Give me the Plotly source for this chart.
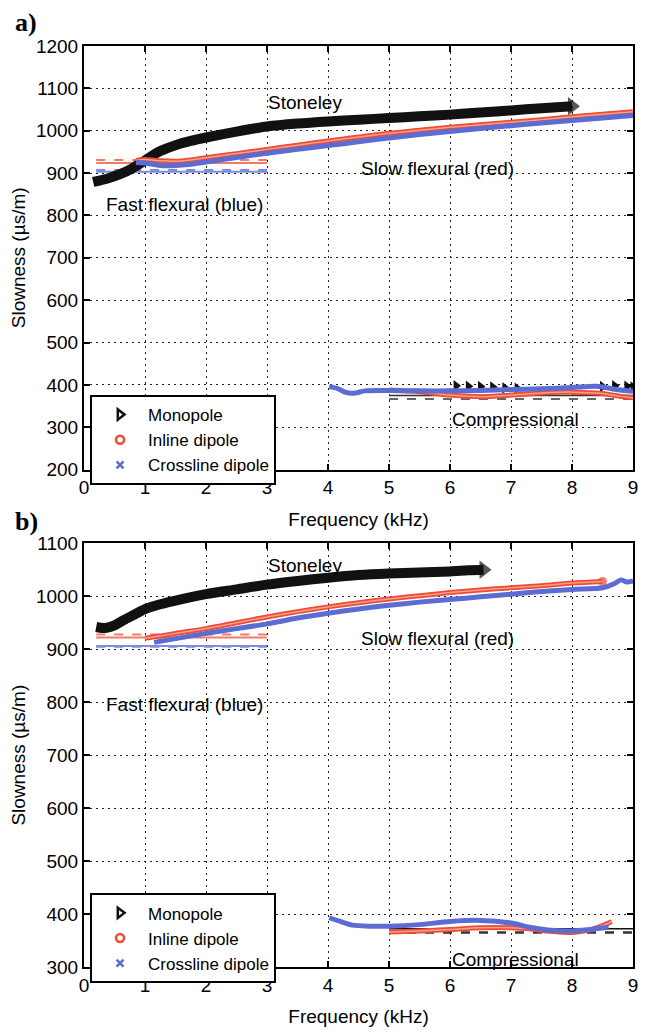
import plotly.graph_objects as go

# ---------------- panel a) ----------------
# Stoneley (monopole)
a_st_f = [0.15, 0.4, 0.6, 0.8, 1.0, 1.25, 1.5, 1.75, 2.0, 2.5, 3.0, 3.5, 4.0, 4.5, 5.0, 5.5, 6.0, 6.5, 7.0, 7.5, 8.0]
a_st_s = [879, 888, 898, 912, 930, 952, 966, 976, 984, 998, 1010, 1017, 1022, 1026, 1030, 1034, 1038, 1043, 1048, 1053, 1058]
# flexural (inline / crossline dipole)
a_in_f = [0.85, 1.0, 1.25, 1.5, 1.75, 2.0, 2.5, 3.0, 3.5, 4.0, 4.5, 5.0, 5.5, 6.0, 6.5, 7.0, 7.5, 8.0, 8.5, 9.0]
a_in_s = [930, 932, 929, 928, 931, 936, 946, 956, 966, 976, 985, 994, 1001, 1008, 1014, 1020, 1026, 1033, 1039, 1045]
a_cr_f = [0.85, 1.0, 1.25, 1.5, 1.75, 2.0, 2.5, 3.0, 3.5, 4.0, 4.5, 5.0, 5.5, 6.0, 6.5, 7.0, 7.5, 8.0, 8.5, 9.0]
a_cr_s = [925, 924, 918, 918, 921, 926, 937, 947, 956, 965, 974, 983, 991, 998, 1005, 1012, 1018, 1024, 1030, 1036]
# compressional
a_cp_cr_f = [4.02, 4.15, 4.3, 4.45, 4.6, 5.0, 5.5, 6.0, 6.5, 7.0, 7.5, 8.0, 8.4, 8.7, 9.0]
a_cp_cr_s = [396, 392, 382, 381, 386, 387, 386, 386, 387, 389, 391, 394, 397, 390, 385]
a_cp_in_f = [5.0, 5.5, 6.0, 6.5, 7.0, 7.5, 8.0, 8.5, 8.8, 9.0]
a_cp_in_s = [388, 384, 376, 372, 376, 381, 383, 380, 373, 370]
a_cp_mo_f = [6.1, 6.3, 6.5, 6.7, 6.9, 7.1, 8.5, 8.7, 8.9, 9.0]
a_cp_mo_s = [398, 397, 396, 395, 393, 392, 396, 398, 397, 395]
# reference slownesses (range in kHz, value in us/m)
a_ref_band = [0.2, 3.0]
a_ref_in = [931, 924]      # dashed, solid
a_ref_cr = [907, 903]      # dashed, solid
a_ref_cp_band = [5.0, 9.0]
a_ref_cp = [367, 375]      # dashed, solid

# ---------------- panel b) ----------------
b_st_f = [0.2, 0.35, 0.5, 0.65, 0.8, 1.0, 1.25, 1.5, 2.0, 2.5, 3.0, 3.5, 4.0, 4.5, 5.0, 5.5, 6.0, 6.3, 6.55]
b_st_s = [942, 940, 945, 955, 964, 976, 985, 992, 1004, 1013, 1022, 1029, 1035, 1040, 1043, 1045, 1047, 1049, 1050]
b_in_f = [1.0, 1.25, 1.5, 2.0, 2.5, 3.0, 3.5, 4.0, 4.5, 5.0, 5.5, 6.0, 6.5, 7.0, 7.5, 8.0, 8.5]
b_in_s = [921, 925, 930, 939, 950, 961, 971, 980, 988, 995, 1001, 1007, 1012, 1016, 1020, 1025, 1028]
b_cr_f = [1.15, 1.5, 2.0, 2.5, 3.0, 3.5, 4.0, 4.5, 5.0, 5.5, 6.0, 6.5, 7.0, 7.5, 8.0, 8.5, 8.7, 8.8, 8.9, 9.0]
b_cr_s = [913, 920, 930, 939, 948, 959, 968, 976, 983, 989, 994, 999, 1004, 1009, 1013, 1016, 1024, 1031, 1027, 1029]
b_cp_cr_f = [4.02, 4.2, 4.4, 4.7, 5.0, 5.5, 6.0, 6.5, 7.0, 7.3, 7.6, 8.0, 8.3, 8.6]
b_cp_cr_s = [393, 386, 379, 377, 377, 380, 386, 388, 383, 375, 370, 368, 371, 375]
b_cp_in_f = [5.0, 5.5, 6.0, 6.5, 7.0, 7.3, 7.6, 8.0, 8.3, 8.5, 8.65]
b_cp_in_s = [366, 368, 371, 374, 374, 372, 368, 365, 370, 378, 386]
b_ref_band = [0.2, 3.0]
b_ref_in = [928, 922]
b_ref_cr = [905, 906]
b_ref_cp_band = [5.0, 9.0]
b_ref_cp = [365, 372]

FONT = "Liberation Sans, Arial, Helvetica, sans-serif"
RED = "#ee4b34"
RED_CORE = "#f7a08c"
RED_L = "#f27a66"
BLUE = "#5b6cd3"
BLUE_L = "#7d8ce0"
BLACK = "#111111"

fig = go.Figure()


def band(x, y, color, width, xa, ya, tip=None, tip_size=0, core=None):
    """Dense dispersion picks drawn as a thick smoothed band.
    tip: optional marker symbol drawn at the last pick only.
    core: optional lighter colour along the band centre (hollow-marker look)."""
    n = len(x)
    sizes = [0] * (n - 1) + [tip_size] if tip else [0] * n
    fig.add_trace(go.Scatter(
        x=x, y=y, mode="lines+markers", xaxis=xa, yaxis=ya, showlegend=False,
        line=dict(color=color, width=width, shape="spline", smoothing=0.8),
        marker=dict(symbol=tip or "circle", size=sizes, color=color, line=dict(width=0)),
        hoverinfo="skip"))
    if core:
        fig.add_trace(go.Scatter(
            x=x, y=y, mode="lines", xaxis=xa, yaxis=ya, showlegend=False,
            line=dict(color=core, width=1.5, shape="spline", smoothing=0.8),
            hoverinfo="skip"))


def hline(band_x, val, color, width, dash, xa, ya):
    fig.add_trace(go.Scatter(
        x=band_x, y=[val, val], mode="lines", xaxis=xa, yaxis=ya,
        showlegend=False, line=dict(color=color, width=width, dash=dash),
        hoverinfo="skip"))


def legend_entries(lg, xa, ya):
    fig.add_trace(go.Scatter(x=[None], y=[None], mode="markers", name="Monopole",
                             legend=lg, xaxis=xa, yaxis=ya,
                             marker=dict(symbol="triangle-right-open", size=9,
                                         color=BLACK, line=dict(width=2.5, color=BLACK))))
    fig.add_trace(go.Scatter(x=[None], y=[None], mode="markers", name="Inline dipole",
                             legend=lg, xaxis=xa, yaxis=ya,
                             marker=dict(symbol="circle-open", size=8,
                                         color=RED, line=dict(width=2.5, color=RED))))
    fig.add_trace(go.Scatter(x=[None], y=[None], mode="markers", name="Crossline dipole",
                             legend=lg, xaxis=xa, yaxis=ya,
                             marker=dict(symbol="x-thin-open", size=7,
                                         color=BLUE, line=dict(width=2.5, color=BLUE))))


# panel a) reference lines
hline(a_ref_band, a_ref_in[0], RED_L, 2, "dash", "x", "y")
hline(a_ref_band, a_ref_in[1], RED_L, 2, "solid", "x", "y")
hline(a_ref_band, a_ref_cr[0], BLUE_L, 2.5, "dash", "x", "y")
hline(a_ref_band, a_ref_cr[1], BLUE_L, 2, "solid", "x", "y")
hline(a_ref_cp_band, a_ref_cp[0], "#666666", 2, "dash", "x", "y")
hline(a_ref_cp_band, a_ref_cp[1], "#333333", 1.5, "solid", "x", "y")
# panel a) dispersion curves
fig.add_trace(go.Scatter(
    x=a_cp_mo_f, y=a_cp_mo_s, mode="markers", xaxis="x", yaxis="y", showlegend=False,
    marker=dict(symbol="triangle-right", size=10, color=BLACK), hoverinfo="skip"))
band(a_cp_in_f, a_cp_in_s, RED, 5, "x", "y", core=RED_CORE)
band(a_cp_cr_f, a_cp_cr_s, BLUE, 5, "x", "y")
band(a_st_f, a_st_s, BLACK, 10, "x", "y", tip="triangle-right", tip_size=16)
band(a_in_f, a_in_s, RED, 5, "x", "y", core=RED_CORE)
band(a_cr_f, a_cr_s, BLUE, 5, "x", "y")
legend_entries("legend", "x", "y")

# panel b) reference lines
hline(b_ref_band, b_ref_in[0], RED_L, 2, "dash", "x2", "y2")
hline(b_ref_band, b_ref_in[1], RED_L, 2, "solid", "x2", "y2")
hline(b_ref_band, b_ref_cr[0], BLUE_L, 2.5, "dash", "x2", "y2")
hline(b_ref_band, b_ref_cr[1], BLUE_L, 2, "solid", "x2", "y2")
hline(b_ref_cp_band, b_ref_cp[0], "#333333", 2.5, "dash", "x2", "y2")
hline(b_ref_cp_band, b_ref_cp[1], BLACK, 1.5, "solid", "x2", "y2")
# panel b) dispersion curves
band(b_cp_in_f, b_cp_in_s, RED, 5, "x2", "y2", core=RED_CORE)
band(b_cp_cr_f, b_cp_cr_s, BLUE, 5, "x2", "y2")
band(b_st_f, b_st_s, BLACK, 10, "x2", "y2", tip="triangle-right", tip_size=16)
band(b_in_f, b_in_s, RED, 5, "x2", "y2", tip="circle", tip_size=9, core=RED_CORE)
band(b_cr_f, b_cr_s, BLUE, 5, "x2", "y2")
legend_entries("legend2", "x2", "y2")

axis_common = dict(
    showline=True, linecolor="black", linewidth=2, mirror="ticks",
    ticks="inside", ticklen=6, tickwidth=2, tickcolor="black",
    showgrid=True, gridcolor="#222222", gridwidth=1, griddash="2px,4px",
    zeroline=False, tickfont=dict(family=FONT, size=19, color="black"),
)
title_font = dict(family=FONT, size=19, color="black")

legend_common = dict(
    xanchor="left", yanchor="top", bordercolor="black", borderwidth=2,
    bgcolor="white", font=dict(family=FONT, size=17, color="black"),
    itemwidth=46, tracegroupgap=0, entrywidth=200,
)

fig.update_layout(
    width=650, height=1036,
    margin=dict(l=84, r=16, t=46, b=51),
    paper_bgcolor="white", plot_bgcolor="white",
    font=dict(family=FONT, size=19, color="black"),
    xaxis=dict(axis_common, range=[0, 9], dtick=1, anchor="y", domain=[0, 1],
               title=dict(text="Frequency (kHz)", font=title_font)),
    yaxis=dict(axis_common, range=[200, 1200], dtick=100, anchor="x", domain=[0.540, 1.0],
               title=dict(text="Slowness (µs/m)", font=title_font, standoff=5)),
    xaxis2=dict(axis_common, range=[0, 9], dtick=1, anchor="y2", domain=[0, 1],
                title=dict(text="Frequency (kHz)", font=title_font)),
    yaxis2=dict(axis_common, range=[300, 1100], dtick=100, anchor="x2", domain=[0.0, 0.460],
                title=dict(text="Slowness (µs/m)", font=title_font, standoff=5)),
    legend=dict(legend_common, x=0.011, y=0.621),
    legend2=dict(legend_common, x=0.011, y=0.080),
    showlegend=True,
)

ann_font = dict(family=FONT, size=19, color="black")
labels = [
    ("x", "y", 3.63, 1066, "Stoneley"),
    ("x", "y", 5.80, 910, "Slow flexural (red)"),
    ("x", "y", 1.64, 826, "Fast flexural (blue)"),
    ("x", "y", 7.08, 318, "Compressional"),
    ("x2", "y2", 3.63, 1059, "Stoneley"),
    ("x2", "y2", 5.80, 920, "Slow flexural (red)"),
    ("x2", "y2", 1.64, 796, "Fast flexural (blue)"),
    ("x2", "y2", 7.08, 315, "Compressional"),
]
for xr, yr, xv, yv, txt in labels:
    fig.add_annotation(x=xv, y=yv, xref=xr, yref=yr, text=txt, showarrow=False,
                       font=ann_font, xanchor="center", yanchor="middle")

panel_font = dict(family="Liberation Serif, Times New Roman, serif", size=26, color="black")
fig.add_annotation(x=-0.13, y=1.026, xref="paper", yref="paper", text="<b>a)</b>",
                   showarrow=False, font=panel_font, xanchor="left", yanchor="middle")
fig.add_annotation(x=-0.13, y=0.484, xref="paper", yref="paper", text="<b>b)</b>",
                   showarrow=False, font=panel_font, xanchor="left", yanchor="middle")

fig.write_html("out.html")
